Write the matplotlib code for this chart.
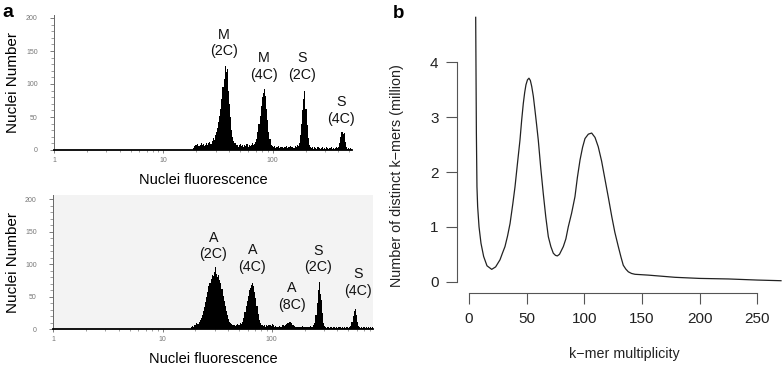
import numpy as np
import matplotlib
matplotlib.use('Agg')
import matplotlib.pyplot as plt
from matplotlib.ticker import FixedLocator, MultipleLocator, NullFormatter

plt.rcParams['font.family'] = ['Liberation Sans', 'DejaVu Sans']

# ---------------- data ----------------
BIN_DEC = 0.01            # histogram channel width in decades (log10)

# Panel a, top histogram (M + S); first channel starts at log10 = 1.27
top_log_start = 1.27
top_counts = [
    3, 6, 8, 7, 9, 6, 8, 10, 7, 9,
    6, 8, 11, 8, 10, 12, 9, 14, 18, 15,
    22, 28, 34, 42, 52, 62, 78, 95, 108, 127,
    118, 122, 90, 70, 50, 30, 20, 14, 10, 7,
    8, 5, 7, 9, 6, 8, 5, 7, 6, 9,
    5, 7, 6, 8, 10, 7, 9, 12, 16, 28,
    40, 52, 66, 80, 86, 92, 82, 62, 45, 28,
    16, 8, 6, 4, 6, 3, 5, 4, 6, 3,
    5, 4, 3, 5, 4, 6, 3, 5, 4, 6,
    4, 5, 3, 6, 5, 7, 6, 10, 22, 40,
    60, 78, 90, 62, 38, 18, 8, 5, 3, 4,
    2, 4, 3, 2, 4, 3, 2, 3, 4, 2,
    3, 2, 4, 3, 2, 3, 4, 2, 3, 2,
    3, 4, 3, 5, 10, 20, 28, 24, 26, 12,
    4, 2, 3, 2, 3, 2,
]
top_labels = ["M\n(2C)", "M\n(4C)", "S\n(2C)", "S\n(4C)"]
top_label_x = [35.8, 83.2, 185, 422]
top_label_y = [162, 126, 126, 60]

# Panel a, bottom histogram (A + S); first channel starts at log10 = 1.26
bot_log_start = 1.26
bot_counts = [
    3, 5, 4, 7, 6, 9, 8, 12, 14, 18,
    22, 28, 34, 42, 50, 58, 66, 72, 78, 84,
    82, 88, 96, 85, 80, 83, 76, 72, 62, 52,
    44, 36, 28, 22, 16, 12, 9, 8, 6, 7,
    5, 6, 8, 6, 7, 9, 8, 12, 18, 26,
    36, 44, 52, 60, 64, 68, 71, 66, 58, 48,
    36, 24, 15, 10, 7, 6, 5, 7, 4, 6,
    5, 7, 6, 5, 8, 6, 4, 5, 3, 4,
    3, 5, 4, 6, 7, 5, 6, 8, 10, 9,
    12, 11, 9, 7, 5, 4, 3, 4, 3, 4,
    3, 4, 5, 4, 3, 4, 3, 4, 3, 5,
    4, 3, 6, 10, 22, 40, 60, 73, 55, 45,
    25, 10, 5, 3, 2, 3, 2, 4, 3, 2,
    3, 4, 2, 3, 2, 3, 4, 2, 3, 2,
    3, 2, 3, 4, 2, 3, 5, 12, 20, 28,
    31, 22, 12, 5, 3, 2, 3, 2, 3, 2,
    3, 2, 3, 2, 3, 2, 3,
]
bot_labels = ["A\n(2C)", "A\n(4C)", "A\n(8C)", "S\n(2C)", "S\n(4C)"]
bot_label_x = [29.2, 66.4, 152, 264, 621]
bot_label_y = [128, 108.6, 50, 108, 72]

# Panel b, k-mer spectrum (multiplicity, million distinct k-mers)
kmer_mult = [5.8, 6.4, 6.9, 7.5, 8.7, 10.4, 12.7, 15.6, 19.7, 23.1,
             26.9, 29.0, 31.2, 33.4, 35.6, 38.0, 39.9, 42.0, 44.2, 45.7,
             47.1, 48.3, 49.4, 50.7, 52.0, 53.2, 54.4, 55.8, 57.2, 58.6,
             60.1, 62.2, 64.4, 66.6, 68.8, 71.0, 73.1, 75.0, 76.6, 78.5,
             81.8, 84.0, 86.1, 89.0, 91.9, 94.0, 96.3, 98.5, 100.6, 103.5,
             106.4, 109.3, 112.1, 115.0, 118.0, 121.0, 123.8, 126.5, 129.5,
             131.8, 133.8, 136.0, 138.2, 141.0, 144.0, 155.5, 178.7, 200,
             225, 250, 270.6]
kmer_count = [4.82, 2.71, 1.73, 1.37, 1.00, 0.70, 0.46, 0.29, 0.225, 0.27,
              0.40, 0.52, 0.64, 0.83, 1.06, 1.42, 1.73, 2.15, 2.58, 2.95,
              3.25, 3.45, 3.59, 3.68, 3.71, 3.67, 3.56, 3.38, 3.13, 2.87,
              2.58, 2.08, 1.61, 1.18, 0.82, 0.64, 0.52, 0.48, 0.47, 0.50,
              0.64, 0.78, 1.00, 1.25, 1.55, 1.90, 2.22, 2.45, 2.61, 2.69,
              2.71, 2.63, 2.46, 2.20, 1.86, 1.52, 1.19, 0.90, 0.64,
              0.45, 0.30, 0.23, 0.18, 0.15, 0.135, 0.12, 0.08, 0.06,
              0.05, 0.03, 0.018]

# ---------------- figure ----------------
W, H = 783, 365
fig = plt.figure(figsize=(W / 100, H / 100), dpi=100)


def px_axes(l, t, r, b):
    return fig.add_axes([l / W, 1 - b / H, (r - l) / W, (b - t) / H])


def hist_panel(ax, log_start, counts, xmax_log, ymax, labels, lx, ly, shade=None):
    counts = np.asarray(counts, float)
    edges = 10 ** (log_start + BIN_DEC * np.arange(len(counts) + 1))
    if shade:
        ax.set_facecolor(shade)
    ax.stairs(counts, edges, fill=True, color='black', baseline=0, lw=0)
    ax.set_xscale('log')
    ax.set_xlim(1, 10 ** xmax_log)
    ax.set_ylim(0, ymax)
    for s in ('top', 'right'):
        ax.spines[s].set_visible(False)
    ax.spines['left'].set_color('#666666')
    ax.spines['left'].set_linewidth(0.7)
    ax.spines['bottom'].set_color('black')
    ax.spines['bottom'].set_linewidth(1.3)
    ax.yaxis.set_major_locator(FixedLocator([0, 50, 100, 150, 200]))
    ax.yaxis.set_minor_locator(MultipleLocator(10))
    ax.xaxis.set_major_locator(FixedLocator([1, 10, 100]))
    ax.xaxis.set_major_formatter(plt.FuncFormatter(lambda v, p: f"{int(round(v))}"))
    ax.xaxis.set_minor_locator(FixedLocator(
        [m * 10 ** d for d in range(3) for m in range(2, 10) if m * 10 ** d < 10 ** xmax_log]))
    ax.xaxis.set_minor_formatter(NullFormatter())
    ax.tick_params(axis='y', which='major', length=3, width=0.6, color='#666666',
                   labelsize=5, labelcolor='#777777', pad=9)
    ax.tick_params(axis='y', which='minor', length=2, width=0.5, color='#777777')
    ax.tick_params(axis='x', which='major', length=2, width=0.6, color='#666666',
                   labelsize=5, labelcolor='#777777', pad=3)
    ax.tick_params(axis='x', which='minor', length=1.5, width=0.5, color='#777777')
    ax.set_xlabel('Nuclei fluorescence', fontsize=10.5, labelpad=6.5)
    ax.set_ylabel('Nuclei Number', fontsize=11)
    for t, x, y in zip(labels, lx, ly):
        ax.text(x, y, t, ha='center', va='center', fontsize=10.3,
                linespacing=1.25, color='#111111')


top_box = (54.3, 14.7, 352.4, 150)
ax_top = px_axes(*top_box)
hist_panel(ax_top, top_log_start, top_counts, 2.73, 205,
           top_labels, top_label_x, top_label_y)
ax_top.yaxis.set_label_coords((20 - top_box[0]) / (top_box[2] - top_box[0]), 0.5)

bot_box = (53.3, 195.4, 373.3, 329.3)
ax_bot = px_axes(*bot_box)
hist_panel(ax_bot, bot_log_start, bot_counts, 2.93, 206,
           bot_labels, bot_label_x, bot_label_y, shade='#f3f3f3')
ax_bot.yaxis.set_label_coords((20 - bot_box[0]) / (bot_box[2] - bot_box[0]), 0.5)

# Panel b
kx0, kpx = 469.0, 1.153      # pixel of k=0 and px per unit
vy0, vpx = 281.7, 54.85      # pixel of v=0 and px per unit
xl = (-10.8, 280.8)
yl = (-0.2, 5.2)
b_box = (kx0 + xl[0] * kpx, vy0 - yl[1] * vpx, kx0 + xl[1] * kpx, vy0 - yl[0] * vpx)
ax_b = px_axes(*b_box)
ax_b.plot(kmer_mult, kmer_count, color='#222222', lw=0.9)
ax_b.set_xlim(*xl)
ax_b.set_ylim(*yl)
for s in ('top', 'right'):
    ax_b.spines[s].set_visible(False)
ax_b.spines['left'].set_bounds(0, 4)
ax_b.spines['bottom'].set_bounds(0, 250)
for s in ('left', 'bottom'):
    ax_b.spines[s].set_color('#555555')
    ax_b.spines[s].set_linewidth(0.8)
ax_b.set_xticks([0, 50, 100, 150, 200, 250])
ax_b.set_yticks([0, 1, 2, 3, 4])
ax_b.tick_params(axis='both', length=8, width=0.8, color='#555555',
                 labelsize=11, labelcolor='#222222')
ax_b.tick_params(axis='x', pad=6)
ax_b.tick_params(axis='y', pad=5)
ax_b.set_xlabel('k\u2212mer multiplicity', fontsize=10.3, labelpad=15, color='#222222')
ax_b.set_ylabel('Number of distinct k\u2212mers (million)', fontsize=10.4, color='#222222')
bw, bh = b_box[2] - b_box[0], b_box[3] - b_box[1]
ax_b.yaxis.set_label_coords((404 - b_box[0]) / bw, 1 - (176 - b_box[1]) / bh)

fig.text(2 / W, 1 - 17 / H, 'a', fontsize=14, fontweight='bold', ha='left', va='baseline')
fig.text(393 / W, 1 - 18 / H, 'b', fontsize=13.5, fontweight='bold', ha='left', va='baseline')

fig.savefig('out.png', dpi=100)
